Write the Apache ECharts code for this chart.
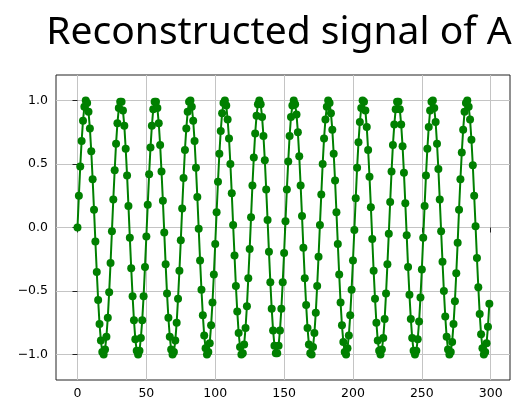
<!DOCTYPE html>
<html>
<head>
<meta charset="utf-8">
<script src="https://cdn.jsdelivr.net/npm/echarts@6/dist/echarts.min.js"></script>
<style>
  html, body { margin: 0; padding: 0; background: #fff; }
  #chart { width: 512px; height: 410px; }
</style>
</head>
<body>
<div id="chart"></div>
<script>
// samples, one per index 0..299
var signal = [
  0.00,0.25,0.48,0.68,0.84,0.95,1.00,0.98,0.91,0.78,0.60,0.38,0.14,-0.11,-0.35,-0.57,-0.76,-0.89,-0.98,-1.00,-0.96,-0.86,-0.71,-0.51,-0.28,-0.03,
  0.22,0.45,0.66,0.82,0.94,0.99,0.99,0.92,0.80,0.62,0.41,0.17,-0.08,-0.32,-0.54,-0.73,-0.88,-0.97,-1.00,-0.97,-0.87,-0.73,-0.54,-0.31,-0.07,
  0.18,0.42,0.63,0.80,0.93,0.99,0.99,0.94,0.82,0.65,0.44,0.21,-0.04,-0.29,-0.52,-0.71,-0.86,-0.96,-1.00,-0.98,-0.89,-0.75,-0.56,-0.34,-0.10,
  0.15,0.39,0.61,0.78,0.91,0.99,1.00,0.95,0.84,0.68,0.47,0.24,-0.01,-0.26,-0.49,-0.69,-0.85,-0.95,-1.00,-0.98,-0.91,-0.77,-0.59,-0.37,-0.13,
  0.12,0.36,0.58,0.76,0.90,0.98,1.00,0.96,0.85,0.70,0.50,0.27,0.02,-0.22,-0.46,-0.66,-0.83,-0.94,-1.00,-0.99,-0.92,-0.79,-0.62,-0.40,-0.17,
  0.08,0.33,0.55,0.74,0.88,0.97,1.00,0.97,0.87,0.72,0.53,0.30,0.06,-0.19,-0.43,-0.64,-0.81,-0.93,-0.99,-0.99,-0.93,-0.81,-0.64,-0.43,-0.20,
  0.05,0.30,0.52,0.72,0.87,0.96,1.00,0.97,0.89,0.75,0.56,0.33,0.09,-0.16,-0.40,-0.61,-0.79,-0.92,-0.99,-1.00,-0.94,-0.83,-0.67,-0.46,-0.23,
  0.02,0.26,0.50,0.70,0.85,0.95,1.00,0.98,0.90,0.77,0.58,0.37,0.12,-0.13,-0.37,-0.59,-0.77,-0.90,-0.98,-1.00,-0.95,-0.85,-0.69,-0.49,-0.26,-0.02,
  0.23,0.47,0.67,0.83,0.94,1.00,0.99,0.92,0.79,0.61,0.40,0.16,-0.09,-0.34,-0.56,-0.75,-0.89,-0.97,-1.00,-0.96,-0.87,-0.72,-0.52,-0.29,-0.05,
  0.20,0.44,0.65,0.81,0.93,0.99,0.99,0.93,0.81,0.64,0.43,0.19,-0.06,-0.31,-0.53,-0.72,-0.87,-0.97,-1.00,-0.97,-0.88,-0.74,-0.55,-0.33,-0.08,
  0.17,0.41,0.62,0.79,0.92,0.99,1.00,0.94,0.83,0.66,0.46,0.22,-0.03,-0.27,-0.50,-0.70,-0.86,-0.96,-1.00,-0.98,-0.90,-0.76,-0.58,-0.36,-0.12,
  0.14,0.38,0.59,0.77,0.91,0.98,1.00,0.95,0.85,0.69,0.49,0.25,0.01,-0.24,-0.47,-0.68,-0.84,-0.95,-1.00,-0.98,-0.91,-0.78,-0.60
];
var xTicks = [0, 50, 100, 150, 200, 250, 300];
var yTicks = [-1.0, -0.5, 0.0, 0.5, 1.0];

var points = signal.map(function (v, i) { return [i, v]; });

var chart = echarts.init(document.getElementById('chart'));
chart.setOption({
  animation: false,
  title: {
    text: 'Reconstructed signal of A',
    left: 274,
    top: 8,
    textAlign: 'center',
    textStyle: { fontFamily: 'Noto Sans', fontSize: 39, fontWeight: 'normal', color: '#000' }
  },
  grid: {
    left: 56, right: 2, top: 75, bottom: 30,
    show: true, borderColor: '#222', borderWidth: 1
  },
  xAxis: {
    type: 'value', min: -15.6, max: 314,
    axisLine: { show: false },
    axisTick: { show: true, length: 5, customValues: xTicks, lineStyle: { color: '#222' } },
    axisLabel: {
      customValues: xTicks, margin: 7, color: '#000',
      fontFamily: 'DejaVu Sans', fontSize: 12.5
    },
    splitLine: { show: true, lineStyle: { color: '#c4c4c4', width: 1 } }
  },
  yAxis: {
    type: 'value', min: -1.2, max: 1.2,
    axisLine: { show: false },
    axisTick: { show: true, length: 5, customValues: yTicks, lineStyle: { color: '#222' } },
    axisLabel: {
      customValues: yTicks, margin: 8, color: '#000',
      fontFamily: 'DejaVu Sans', fontSize: 12.5,
      formatter: function (v) { return v.toFixed(1).replace('-', '\u2212'); }
    },
    splitLine: { show: true, lineStyle: { color: '#c4c4c4', width: 1 } }
  },
  series: [{
    type: 'line',
    data: points,
    symbol: 'circle',
    symbolSize: 8,
    showAllSymbol: true,
    itemStyle: { color: '#008000' },
    lineStyle: { color: '#008000', width: 2 }
  }]
});
</script>
</body>
</html>
